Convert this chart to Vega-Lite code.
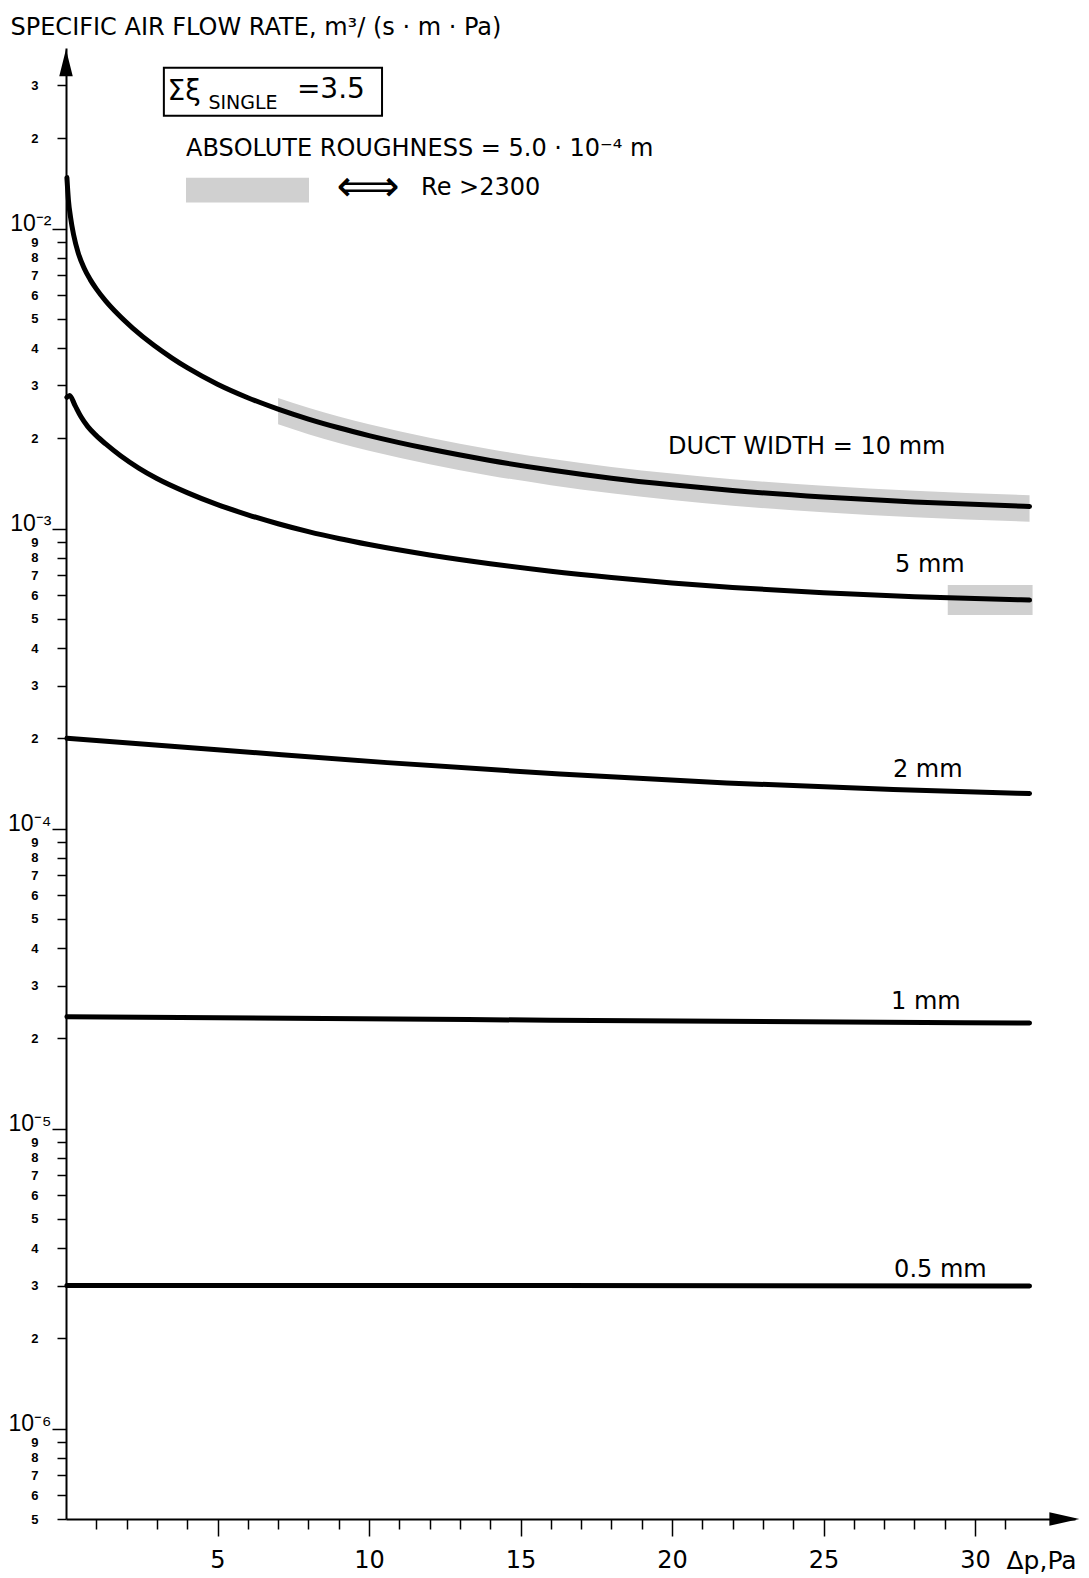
{
  "$schema": "https://vega.github.io/schema/vega-lite/v6.json",
  "width": 1009,
  "height": 1471,
  "autosize": {"type": "none"},
  "padding": {"left": 66, "top": 48, "right": 14, "bottom": 59},
  "background": "white",
  "config": {"view": {"stroke": null}, "font": "DejaVu Sans"},
  "datasets": {
    "curves": [
      {"width": "10 mm", "dp": 0.03, "q": 0.014791},
      {"width": "10 mm", "dp": 0.08, "q": 0.012445},
      {"width": "10 mm", "dp": 0.15, "q": 0.010914},
      {"width": "10 mm", "dp": 0.25, "q": 0.00955},
      {"width": "10 mm", "dp": 0.4, "q": 0.008318},
      {"width": "10 mm", "dp": 0.6, "q": 0.007379},
      {"width": "10 mm", "dp": 0.8, "q": 0.006761},
      {"width": "10 mm", "dp": 1.0, "q": 0.006295},
      {"width": "10 mm", "dp": 1.3, "q": 0.005754},
      {"width": "10 mm", "dp": 1.7, "q": 0.0052},
      {"width": "10 mm", "dp": 2.2, "q": 0.00466},
      {"width": "10 mm", "dp": 2.9, "q": 0.004083},
      {"width": "10 mm", "dp": 3.5, "q": 0.003702},
      {"width": "10 mm", "dp": 4.0, "q": 0.003439},
      {"width": "10 mm", "dp": 5, "q": 0.00303},
      {"width": "10 mm", "dp": 6, "q": 0.002732},
      {"width": "10 mm", "dp": 7, "q": 0.002503},
      {"width": "10 mm", "dp": 8, "q": 0.002319},
      {"width": "10 mm", "dp": 9, "q": 0.002169},
      {"width": "10 mm", "dp": 10, "q": 0.002043},
      {"width": "10 mm", "dp": 12, "q": 0.001842},
      {"width": "10 mm", "dp": 14, "q": 0.001688},
      {"width": "10 mm", "dp": 16, "q": 0.001568},
      {"width": "10 mm", "dp": 18, "q": 0.001473},
      {"width": "10 mm", "dp": 20, "q": 0.0014},
      {"width": "10 mm", "dp": 22, "q": 0.001341},
      {"width": "10 mm", "dp": 25, "q": 0.001275},
      {"width": "10 mm", "dp": 28, "q": 0.001227},
      {"width": "10 mm", "dp": 31.8, "q": 0.001185},
      {"width": "5 mm", "dp": 0.03, "q": 0.002742},
      {"width": "5 mm", "dp": 0.12, "q": 0.00278},
      {"width": "5 mm", "dp": 0.3, "q": 0.00257},
      {"width": "5 mm", "dp": 0.5, "q": 0.002355},
      {"width": "5 mm", "dp": 0.72, "q": 0.002188},
      {"width": "5 mm", "dp": 1.0, "q": 0.002042},
      {"width": "5 mm", "dp": 1.3, "q": 0.001919},
      {"width": "5 mm", "dp": 1.8, "q": 0.00175},
      {"width": "5 mm", "dp": 2.4, "q": 0.001592},
      {"width": "5 mm", "dp": 3.0, "q": 0.001469},
      {"width": "5 mm", "dp": 4.0, "q": 0.001318},
      {"width": "5 mm", "dp": 5.0, "q": 0.001202},
      {"width": "5 mm", "dp": 6.0, "q": 0.001112},
      {"width": "5 mm", "dp": 7.0, "q": 0.001038},
      {"width": "5 mm", "dp": 8.0, "q": 0.000977},
      {"width": "5 mm", "dp": 9.0, "q": 0.000927},
      {"width": "5 mm", "dp": 10, "q": 0.000885},
      {"width": "5 mm", "dp": 12, "q": 0.000817},
      {"width": "5 mm", "dp": 14, "q": 0.000764},
      {"width": "5 mm", "dp": 16, "q": 0.000721},
      {"width": "5 mm", "dp": 18, "q": 0.000687},
      {"width": "5 mm", "dp": 20, "q": 0.000659},
      {"width": "5 mm", "dp": 22, "q": 0.000637},
      {"width": "5 mm", "dp": 25, "q": 0.000611},
      {"width": "5 mm", "dp": 28, "q": 0.000593},
      {"width": "5 mm", "dp": 31.8, "q": 0.000578},
      {"width": "2 mm", "dp": 0.03, "q": 0.0002},
      {"width": "2 mm", "dp": 5.1, "q": 0.000183},
      {"width": "2 mm", "dp": 10.6, "q": 0.000166},
      {"width": "2 mm", "dp": 16.3, "q": 0.000152},
      {"width": "2 mm", "dp": 21.8, "q": 0.000142},
      {"width": "2 mm", "dp": 27.3, "q": 0.000135},
      {"width": "2 mm", "dp": 31.8, "q": 0.000131},
      {"width": "1 mm", "dp": 0.03, "q": 0.0000236},
      {"width": "1 mm", "dp": 16, "q": 0.000023},
      {"width": "1 mm", "dp": 31.8, "q": 0.0000225},
      {"width": "0.5 mm", "dp": 0.03, "q": 0.000003},
      {"width": "0.5 mm", "dp": 16, "q": 0.000003},
      {"width": "0.5 mm", "dp": 31.8, "q": 0.00000299}
    ],
    "band": [
      {"dp": 7, "q": 0.002728, "q2": 0.002228},
      {"dp": 8, "q": 0.002528, "q2": 0.002064},
      {"dp": 9, "q": 0.002364, "q2": 0.00193},
      {"dp": 10, "q": 0.002227, "q2": 0.001818},
      {"dp": 12, "q": 0.002008, "q2": 0.001639},
      {"dp": 14, "q": 0.00184, "q2": 0.001502},
      {"dp": 16, "q": 0.001709, "q2": 0.001396},
      {"dp": 18, "q": 0.001606, "q2": 0.001311},
      {"dp": 20, "q": 0.001526, "q2": 0.001246},
      {"dp": 22, "q": 0.001462, "q2": 0.001193},
      {"dp": 25, "q": 0.00139, "q2": 0.001135},
      {"dp": 28, "q": 0.001337, "q2": 0.001092},
      {"dp": 31.8, "q": 0.001292, "q2": 0.001055}
    ],
    "shade": [
      {"dp": 29.1, "dp2": 31.9, "q": 0.000649, "q2": 0.000515},
      {"dp": 3.96, "dp2": 8.02, "q": 0.01479, "q2": 0.01221}
    ],
    "box": [
      {"dp": 3.23, "dp2": 10.43, "q": 0.0344, "q2": 0.0238}
    ],
    "notes": [
      {"label": "DUCT  WIDTH = 10 mm", "dp": 19.87, "q": 0.001876},
      {"label": "5 mm", "dp": 27.36, "q": 0.000759},
      {"label": "2 mm", "dp": 27.29, "q": 0.0001573},
      {"label": "1 mm", "dp": 27.23, "q": 0.0000265},
      {"label": "0.5 mm", "dp": 27.33, "q": 0.00000339},
      {"label": "ABSOLUTE ROUGHNESS = 5.0 · 10⁻⁴ m", "dp": 3.96, "q": 0.01849},
      {"label": "Re >2300", "dp": 11.72, "q": 0.01371}
    ],
    "sigma": [
      {"label": "Σξ", "dp": 3.35, "q": 0.0286},
      {"label": "=3.5", "dp": 7.62, "q": 0.0289}
    ],
    "single": [{"label": "SINGLE", "dp": 4.7, "q": 0.0262}],
    "arrow": [{"label": "⟺", "dp": 9.97, "q": 0.01371}]
  },
  "encoding": {
    "x": {
      "field": "dp",
      "type": "quantitative",
      "scale": {"type": "linear", "domain": [0, 33.3], "nice": false, "zero": false},
      "axis": {
        "values": [1,2,3,4,5,6,7,8,9,10,11,12,13,14,15,16,17,18,19,20,21,22,23,24,25,26,27,28,29,30,31],
        "labelExpr": "datum.value % 5 == 0 ? datum.label : ''",
        "tickSize": {"condition": {"test": "datum.value % 5 == 0", "value": 17}, "value": 10},
        "tickWidth": 1.5,
        "tickColor": "black",
        "domainColor": "black",
        "domainWidth": 2,
        "grid": false,
        "labelFont": "DejaVu Sans",
        "labelFontSize": 24,
        "labelColor": "black",
        "labelPadding": 12,
        "labelOverlap": false,
        "labelFlush": false,
        "title": "Δp,Pa",
        "titleFont": "DejaVu Sans",
        "titleFontSize": 25,
        "titleFontWeight": "normal",
        "titleColor": "black",
        "titleAlign": "left",
        "titleBaseline": "top",
        "titleAnchor": "start",
        "titleX": 940,
        "titleY": 29
      }
    },
    "y": {
      "field": "q",
      "type": "quantitative",
      "scale": {"type": "log", "domain": [0.0000005, 0.04], "nice": false},
      "axis": {
        "values": [0.0000005,0.0000006,0.0000007,0.0000008,0.0000009,
                   0.000001,0.000002,0.000003,0.000004,0.000005,0.000006,0.000007,0.000008,0.000009,
                   0.00001,0.00002,0.00003,0.00004,0.00005,0.00006,0.00007,0.00008,0.00009,
                   0.0001,0.0002,0.0003,0.0004,0.0005,0.0006,0.0007,0.0008,0.0009,
                   0.001,0.002,0.003,0.004,0.005,0.006,0.007,0.008,0.009,
                   0.01,0.02,0.03],
        "labelExpr": "abs(log(datum.value)/LN10 - round(log(datum.value)/LN10)) < 0.001 ? (round(log(datum.value)/LN10) == -2 ? '10⁻²' : round(log(datum.value)/LN10) == -3 ? '10⁻³' : round(log(datum.value)/LN10) == -4 ? '10⁻⁴' : round(log(datum.value)/LN10) == -5 ? '10⁻⁵' : '10⁻⁶') : toString(round(datum.value / pow(10, floor(log(datum.value)/LN10 + 0.001))))",
        "labelFont": "Liberation Sans",
        "labelFontSize": {"condition": {"test": "abs(log(datum.value)/LN10 - round(log(datum.value)/LN10)) < 0.001", "value": 23}, "value": 13},
        "labelFontWeight": {"condition": {"test": "abs(log(datum.value)/LN10 - round(log(datum.value)/LN10)) < 0.001", "value": "normal"}, "value": "bold"},
        "labelPadding": {"condition": {"test": "abs(log(datum.value)/LN10 - round(log(datum.value)/LN10)) < 0.001", "value": 1}, "value": 19},
        "labelOffset": {"condition": {"test": "abs(log(datum.value)/LN10 - round(log(datum.value)/LN10)) < 0.001", "value": -5}, "value": 0},
        "tickSize": {"condition": {"test": "abs(log(datum.value)/LN10 - round(log(datum.value)/LN10)) < 0.001", "value": 14}, "value": 9},
        "labelColor": "black",
        "labelOverlap": false,
        "labelFlush": false,
        "labelBound": false,
        "tickWidth": 1.5,
        "tickColor": "black",
        "domainColor": "black",
        "domainWidth": 2,
        "grid": false,
        "title": "SPECIFIC AIR FLOW RATE, m³/ (s · m · Pa)",
        "titleFont": "DejaVu Sans",
        "titleFontSize": 24,
        "titleFontWeight": "normal",
        "titleColor": "black",
        "titleAngle": 0,
        "titleAlign": "left",
        "titleBaseline": "middle",
        "titleAnchor": "start",
        "titleX": -56,
        "titleY": -21
      }
    }
  },
  "layer": [
    {
      "data": {"name": "band"},
      "mark": {"type": "area", "interpolate": "monotone", "fill": "#d0d0d0", "opacity": 1},
      "encoding": {"y2": {"field": "q2"}}
    },
    {
      "data": {"name": "shade"},
      "mark": {"type": "rect", "fill": "#d0d0d0"},
      "encoding": {"x2": {"field": "dp2"}, "y2": {"field": "q2"}}
    },
    {
      "data": {"name": "box"},
      "mark": {"type": "rect", "fill": "white", "stroke": "black", "strokeWidth": 2},
      "encoding": {"x2": {"field": "dp2"}, "y2": {"field": "q2"}}
    },
    {
      "data": {"name": "curves"},
      "mark": {"type": "line", "interpolate": "monotone", "color": "black", "strokeWidth": 5, "strokeCap": "round"},
      "encoding": {"detail": {"field": "width", "type": "nominal"}}
    },
    {
      "data": {"name": "notes"},
      "mark": {"type": "text", "align": "left", "baseline": "middle", "fontSize": 24, "font": "DejaVu Sans", "color": "black"},
      "encoding": {"text": {"field": "label"}}
    },
    {
      "data": {"name": "sigma"},
      "mark": {"type": "text", "align": "left", "baseline": "middle", "fontSize": 28, "font": "DejaVu Sans", "color": "black"},
      "encoding": {"text": {"field": "label"}}
    },
    {
      "data": {"name": "single"},
      "mark": {"type": "text", "align": "left", "baseline": "middle", "fontSize": 19, "font": "DejaVu Sans", "color": "black"},
      "encoding": {"text": {"field": "label"}}
    },
    {
      "data": {"name": "arrow"},
      "mark": {"type": "text", "align": "center", "baseline": "middle", "fontSize": 44, "font": "DejaVu Sans", "color": "black"},
      "encoding": {"text": {"field": "label"}}
    },
    {
      "data": {"values": [{"dp": 32.95, "q": 0.0000005}]},
      "mark": {"type": "point", "shape": "M-1,-0.45L1,0L-1,0.45Z", "size": 900, "filled": true, "color": "black", "opacity": 1, "strokeWidth": 0}
    },
    {
      "data": {"values": [{"dp": 0, "q": 0.0357}]},
      "mark": {"type": "point", "shape": "M-0.5,1L0,-1L0.5,1Z", "size": 729, "filled": true, "color": "black", "opacity": 1, "strokeWidth": 0}
    }
  ]
}
